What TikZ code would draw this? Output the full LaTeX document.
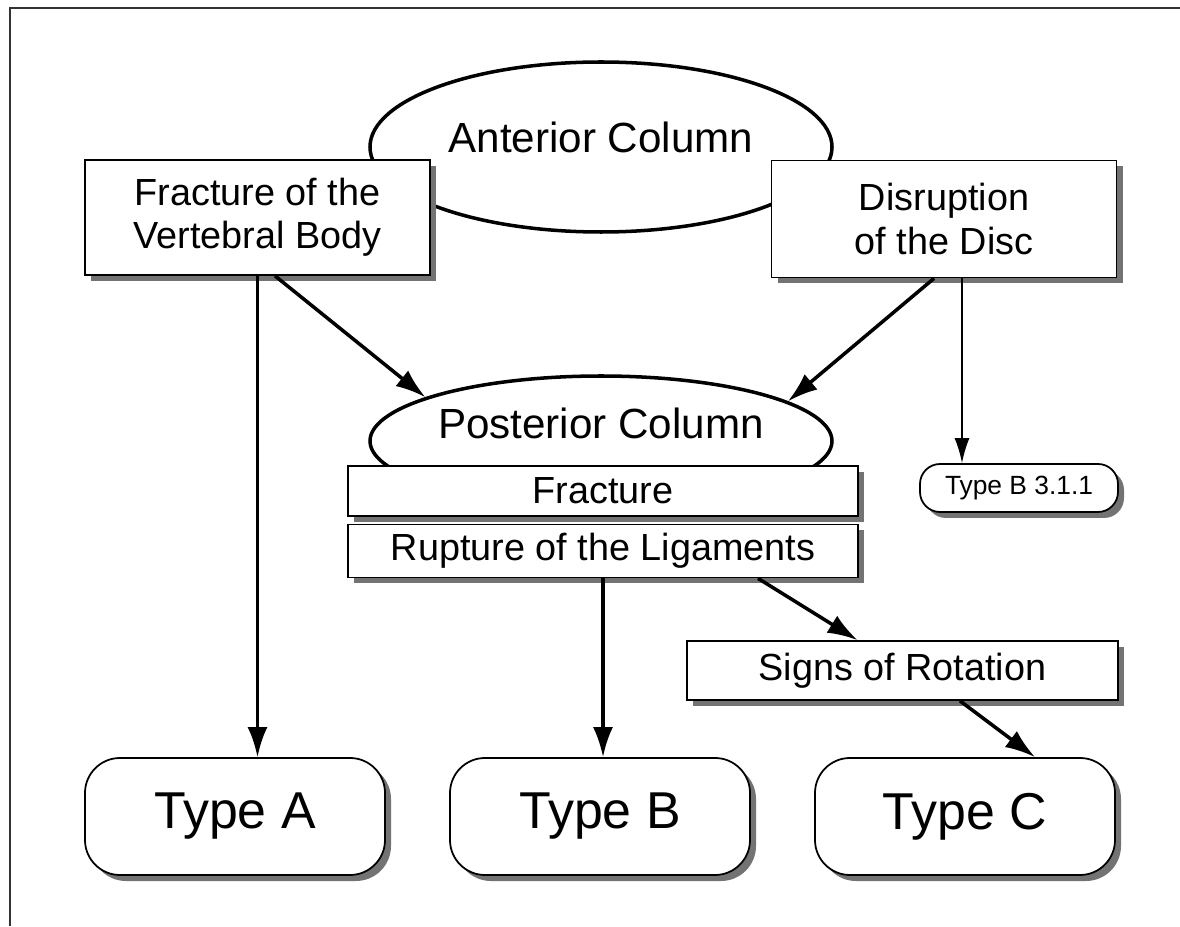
\documentclass[tikz,border=0pt]{standalone}
\usepackage{fontspec}
\setmainfont{Liberation Sans}
\usetikzlibrary{shapes.geometric,shadows,arrows.meta}

\begin{document}
\begin{tikzpicture}[
  box/.style={draw, line width=1pt, fill=white, inner sep=0pt, align=center,
    drop shadow={shadow xshift=1.2mm, shadow yshift=-1.2mm, fill=black!55, opacity=1},
    font=\fontsize{21.5}{24.5}\selectfont},
  typebox/.style={box, rounded corners=7mm, minimum width=6cm, minimum height=2.34cm,
    font=\fontsize{29.5}{32}\selectfont},
  colell/.style={ellipse, draw, line width=2pt, fill=white, inner sep=0pt, minimum width=9.24cm},
  coltxt/.style={font=\fontsize{24}{28}\selectfont},
  arr/.style={-{Latex[length=6mm,width=4mm]}, line width=2pt},
  thinarr/.style={-{Latex[length=5mm,width=3mm]}, line width=1pt}]

  \useasboundingbox (0,0) rectangle (23.6,18.52);
  \draw[line width=0.8pt, black!80] (0.2,0) -- (0.2,18.36) -- (23.6,18.36);

  % the two columns
  \node[colell, minimum height=3.4cm, label={[coltxt, yshift=2mm]center:Anterior Column}] (ant) at (12.02,15.58) {};
  \node[box, minimum width=6.9cm, minimum height=2.3cm] (fvb) at (5.15,14.17) {Fracture of the\\Vertebral Body};
  \node[box, minimum width=6.9cm, minimum height=2.34cm] (dod) at (18.88,14.14) {Disruption\\of the Disc};
  \node[colell, minimum height=2.6cm, label={[coltxt, yshift=3.5mm]center:Posterior Column}] (post) at (12.02,9.7) {};
  \node[box, minimum width=10.2cm, minimum height=1cm] (frac) at (12.06,8.7) {Fracture};
  \node[box, minimum width=10.2cm, minimum height=1.06cm] (rupt) at (12.06,7.5) {Rupture of the Ligaments};
  \node[box, rounded corners=4mm, minimum width=3.96cm, minimum height=0.96cm,
    font=\fontsize{15}{17}\selectfont] (bsub) at (20.38,8.76) {Type B 3.1.1};
  \node[box, minimum width=8.62cm, minimum height=1.18cm] (rot) at (18.05,5.11) {Signs of Rotation};

  % types
  \node[typebox] (ta) at (4.7,2.19) {Type A};
  \node[typebox] (tb) at (12,2.19) {Type B};
  \node[typebox] (tc) at (19.3,2.19) {Type C};

  \draw[arr] (fvb.south) -- (fvb.south |- ta.north);
  \draw[arr] ([xshift=3.5mm]fvb.south) -- (post.166);
  \draw[arr] ([xshift=-2mm]dod.south) -- (post.12);
  \draw[thinarr] ([xshift=3.6mm]dod.south) -- ([xshift=3.6mm]dod.south |- bsub.north);
  \draw[arr] (rupt.south) -- (rupt.south |- tb.north);
  \draw[arr] ([xshift=31mm]rupt.south) -- ([xshift=-9mm]rot.north);
  \draw[arr] ([xshift=11.5mm]rot.south) -- ([xshift=14mm]tc.north);
\end{tikzpicture}
\end{document}
